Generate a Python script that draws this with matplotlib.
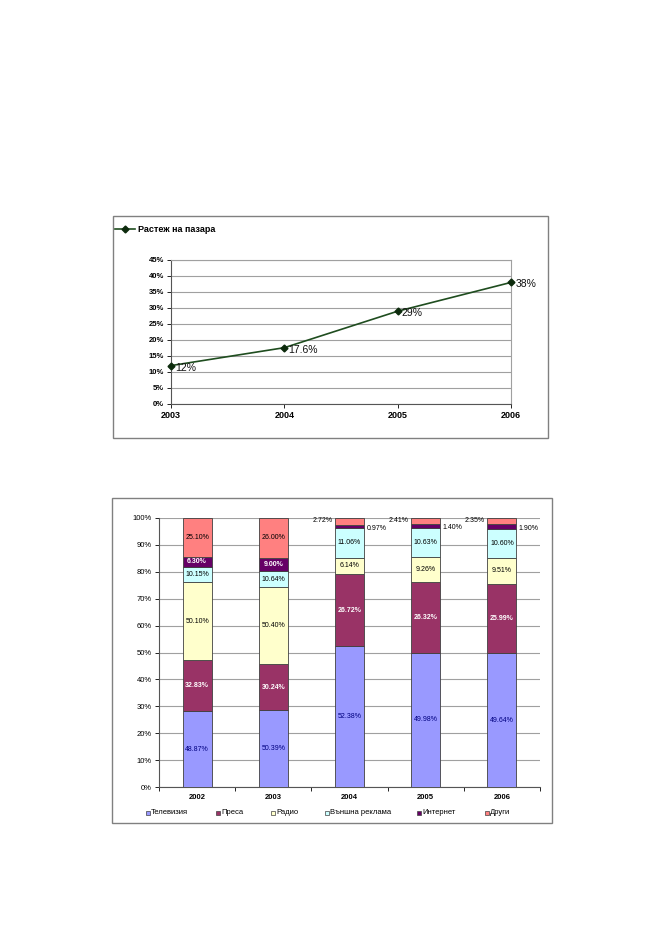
import numpy as np
import matplotlib
matplotlib.use('Agg')
import matplotlib.pyplot as plt
from matplotlib.patches import Rectangle
from matplotlib.lines import Line2D
import matplotlib.ticker as mticker

plt.rcParams['font.family'] = ['Liberation Sans', 'DejaVu Sans']

# ---- line chart data
years_line = [2003, 2004, 2005, 2006]
growth = [12.0, 17.6, 29.0, 38.0]
growth_labels = ['12%', '17.6%', '29%', '38%']
line_legend = 'Растеж на пазара'

# ---- stacked bar data (raw values as shown on the labels)
years_bar = ['2002', '2003', '2004', '2005', '2006']
series_names = ['Телевизия', 'Преса', 'Радио', 'Външна реклама', 'Интернет', 'Други']
tv = [48.87, 50.39, 52.38, 49.98, 49.64]
press = [32.83, 30.24, 26.72, 26.32, 25.99]
radio = [50.10, 50.40, 6.14, 9.26, 9.51]
outdoor = [10.15, 10.64, 11.06, 10.63, 10.60]
internet = [6.30, 9.00, 0.97, 1.40, 1.90]
other = [25.10, 26.00, 2.72, 2.41, 2.35]

colors = ['#9999FF', '#993366', '#FFFFCC', '#CCFFFF', '#660066', '#FF8080']
label_colors = ['#000080', 'white', 'black', 'black', 'white', 'black']

W, H = 655, 926
fig = plt.figure(figsize=(W / 100, H / 100), dpi=100)


def fbox(x0, y0, x1, y1):
    # pixel box -> figure fraction [left, bottom, width, height]
    return [x0 / W, 1 - y1 / H, (x1 - x0) / W, (y1 - y0) / H]


def frame(x0, y0, x1, y1):
    fig.add_artist(Rectangle((x0 / W, 1 - y1 / H), (x1 - x0) / W, (y1 - y0) / H,
                             transform=fig.transFigure, fill=False,
                             edgecolor='#808080', lw=1.0))


############ ---- top: market growth line
frame(113, 216, 548, 438)
ax1 = fig.add_axes(fbox(171, 260, 511, 404))
ax1.plot(years_line, growth, color='#1f4d1f', lw=1.2, marker='D', ms=3.5,
         mfc='#0d2b0d', mec='#0d2b0d', zorder=3, clip_on=False)
for x, y, t in zip(years_line, growth, growth_labels):
    ax1.annotate(t, (x, y), xytext=(3, -1.5), textcoords='offset points',
                 ha='left', va='center', fontsize=7.5, color='#111111')
ax1.set_xlim(2003, 2006)
ax1.set_ylim(0, 45)
ax1.set_yticks(np.arange(0, 46, 5))
ax1.yaxis.set_major_formatter(mticker.FuncFormatter(lambda v, p: f'{v:.0f}%'))
ax1.set_xticks(years_line)
ax1.grid(axis='y', color='#a0a0a0', lw=0.8)
ax1.set_axisbelow(True)
for s in ['top', 'right']:
    ax1.spines[s].set_color('#a0a0a0')
    ax1.spines[s].set_linewidth(0.8)
for s in ['left', 'bottom']:
    ax1.spines[s].set_color('#555555')
    ax1.spines[s].set_linewidth(0.8)
ax1.tick_params(axis='y', labelsize=5.5, length=3, width=0.6, pad=2)
ax1.tick_params(axis='x', labelsize=6.5, length=3, width=0.6, pad=2)
for lab in ax1.get_yticklabels() + ax1.get_xticklabels():
    lab.set_fontweight('bold')

# legend at top-left of the frame
fig.add_artist(Line2D([115 / W, 135 / W], [1 - 229 / H, 1 - 229 / H], color='#1f4d1f',
                      lw=1.2, transform=fig.transFigure))
fig.add_artist(Line2D([125 / W], [1 - 229 / H], color='#0d2b0d', marker='D', ms=3.5,
                      ls='none', transform=fig.transFigure))
fig.text(138 / W, 1 - 229 / H, line_legend, fontsize=6.5, fontweight='bold',
         ha='left', va='center')

############ ---- bottom: 100% stacked bars
frame(112, 498, 552, 823)
ax2 = fig.add_axes(fbox(159, 518, 540, 787))
data = np.array([tv, press, radio, outdoor, internet, other])
totals = data.sum(axis=0)
shares = data / totals * 100
x = np.arange(len(years_bar))
bw = 0.38
bottom = np.zeros(len(years_bar))
for i, name in enumerate(series_names):
    ax2.bar(x, shares[i], bw, bottom=bottom, color=colors[i], edgecolor='#404040',
            lw=0.6, zorder=3)
    for j in range(len(years_bar)):
        mid = bottom[j] + shares[i][j] / 2
        txt = f'{data[i][j]:.2f}%'
        if j >= 2 and name == 'Интернет':
            ax2.text(x[j] + bw / 2 + 0.03, mid - 0.6, txt, ha='left', va='center',
                     fontsize=5, color='black')
        elif j >= 2 and name == 'Други':
            ax2.text(x[j] - bw / 2 - 0.03, 99.2, txt, ha='right', va='center',
                     fontsize=5, color='black')
        else:
            ax2.text(x[j], mid, txt, ha='center', va='center', fontsize=5,
                     color=label_colors[i], fontweight='bold' if i in (1, 4) else 'normal',
                     zorder=4)
    bottom += shares[i]

ax2.set_xlim(-0.5, len(years_bar) - 0.5)
ax2.set_ylim(0, 100)
ax2.set_yticks(np.arange(0, 101, 10))
ax2.yaxis.set_major_formatter(mticker.FuncFormatter(lambda v, p: f'{v:.0f}%'))
ax2.set_xticks(x)
ax2.set_xticklabels(years_bar)
ax2.set_xticks(np.arange(-0.5, len(years_bar)), minor=True)
ax2.tick_params(axis='x', which='major', length=0, labelsize=5.5, pad=5)
ax2.tick_params(axis='x', which='minor', length=3, width=0.6)
ax2.tick_params(axis='y', labelsize=5.5, length=3, width=0.6, pad=2)
for lab in ax2.get_xticklabels():
    lab.set_fontweight('bold')
ax2.grid(axis='y', color='#a0a0a0', lw=0.8)
ax2.set_axisbelow(True)
ax2.spines['top'].set_visible(False)
ax2.spines['right'].set_visible(False)
ax2.spines['left'].set_color('#555555')
ax2.spines['bottom'].set_color('#555555')
ax2.spines['left'].set_linewidth(0.8)
ax2.spines['bottom'].set_linewidth(0.8)

# legend row
leg_x = [148, 218, 273, 327, 419, 487]
leg_y = 813
for lx, name, c in zip(leg_x, series_names, colors):
    fig.add_artist(Rectangle(((lx - 2) / W, 1 - (leg_y + 2) / H), 4 / W, 4 / H,
                             transform=fig.transFigure, facecolor=c,
                             edgecolor='#404040', lw=0.5))
    fig.text((lx + 3) / W, 1 - leg_y / H, name, fontsize=5.5, ha='left', va='center')

fig.savefig('out.png', dpi=100)
